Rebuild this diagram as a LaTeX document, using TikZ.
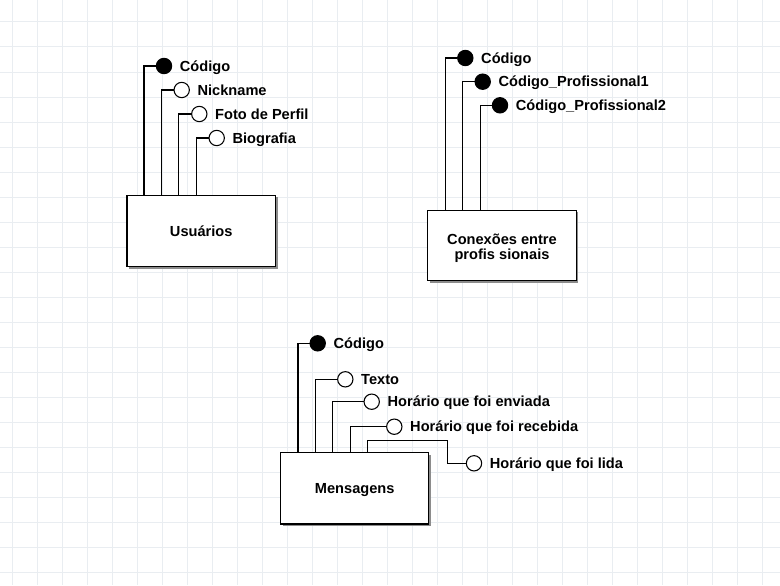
\documentclass[tikz,border=0pt]{standalone}
\usepackage{fontspec}
\setmainfont{Liberation Sans}
\usetikzlibrary{shadows}
\definecolor{gridc}{RGB}{233,237,241}
\definecolor{shadc}{RGB}{140,140,140}
\tikzset{
  px/.style={x=0.75pt,y=-0.75pt},
  gridline/.style={draw=gridc,line width=0.75pt},
  conn/.style={draw=black,line width=0.8pt},
  pk/.style={circle,draw=black,fill=black,line width=0.8pt,minimum size=11.5pt,inner sep=0pt},
  attr/.style={circle,draw=black,fill=white,line width=0.8pt,minimum size=11.5pt,inner sep=0pt},
  lbl/.style={font=\fontsize{10.95pt}{12pt}\selectfont\bfseries,inner sep=0pt,anchor=base west},
  entity/.style={draw=black,fill=white,line width=1pt,minimum width=111.5pt,minimum height=53.5pt,inner sep=0pt,
    drop shadow={shadow xshift=1.6pt,shadow yshift=-1.6pt,fill=shadc,opacity=1}},
  boxtext/.style={font=\fontsize{10.95pt}{11pt}\selectfont\bfseries,align=center,inner sep=0pt}
}
\newcommand{\attrlabel}[2]{\node[lbl] at ([xshift=5.6pt,yshift=-3.9pt]#1.east) {#2};}
\begin{document}
\begin{tikzpicture}[px]
\useasboundingbox (0,0) rectangle (780,585);
\fill[white] (0,0) rectangle (780,585);
\foreach \x in {12,37,...,762} \draw[gridline] (\x,0) -- (\x,585);
\foreach \y in {22,47,...,572} \draw[gridline] (0,\y) -- (780,\y);

% ---------- Usuarios ----------
\node[entity] (ubox) at (201.2,231) {};
\node[boxtext] (ut) at ([yshift=-0.4pt]ubox.center) {Usuários};
\coordinate (ua1) at (144,195.3);
\coordinate (ua2) at (161.3,195.3);
\coordinate (ua3) at (178.7,195.3);
\coordinate (ua4) at (196.3,195.3);
\node[pk]   (uc1) at (164,66) {};
\node[attr] (uc2) at (181.7,90) {};
\node[attr] (uc3) at (199.3,114) {};
\node[attr] (uc4) at (216.7,138) {};
\draw[conn] (uc1.west) -| (ua1);
\draw[conn] (uc2.west) -| (ua2);
\draw[conn] (uc3.west) -| (ua3);
\draw[conn] (uc4.west) -| (ua4);
\attrlabel{uc1}{Código}
\attrlabel{uc2}{Nickname}
\attrlabel{uc3}{Foto de Perfil}
\attrlabel{uc4}{Biografia}

% ---------- Conexoes ----------
\node[entity,minimum height=52.8pt] (cbox) at (502,245.5) {};
\node[boxtext] (ct) at ([yshift=-2.2pt]cbox.center) {Conexões entre\\profis sionais};
\coordinate (ca1) at (445.3,210.3);
\coordinate (ca2) at (462.3,210.3);
\coordinate (ca3) at (480.3,210.3);
\node[pk] (cc1) at (465.3,58) {};
\node[pk] (cc2) at (482.7,81.7) {};
\node[pk] (cc3) at (500,105.3) {};
\draw[conn] (cc1.west) -| (ca1);
\draw[conn] (cc2.west) -| (ca2);
\draw[conn] (cc3.west) -| (ca3);
\attrlabel{cc1}{Código}
\attrlabel{cc2}{Código\_Profissional1}
\attrlabel{cc3}{Código\_Profissional2}

% ---------- Mensagens ----------
\node[entity,minimum width=111pt] (mbox) at (354.7,488.2) {};
\node[boxtext] (mt) at ([yshift=-1.2pt]mbox.center) {Mensagens};
\coordinate (ma1) at (298,452.3);
\coordinate (ma2) at (315.7,452.3);
\coordinate (ma3) at (332.7,452.3);
\coordinate (ma4) at (350.3,452.3);
\coordinate (ma5) at (367.7,452.3);
\coordinate (mb5) at (447.3,440.7);
\node[pk]   (mc1) at (317.7,343.3) {};
\node[attr] (mc2) at (345.3,379.3) {};
\node[attr] (mc3) at (371.7,401.7) {};
\node[attr] (mc4) at (394.3,426.7) {};
\node[attr] (mc5) at (474,463.3) {};
\draw[conn] (mc1.west) -| (ma1);
\draw[conn] (mc2.west) -| (ma2);
\draw[conn] (mc3.west) -| (ma3);
\draw[conn] (mc4.west) -| (ma4);
\draw[conn] (ma5) |- (mb5) |- (mc5.west);
\attrlabel{mc1}{Código}
\attrlabel{mc2}{Texto}
\attrlabel{mc3}{Horário que foi enviada}
\attrlabel{mc4}{Horário que foi recebida}
\attrlabel{mc5}{Horário que foi lida}
\end{tikzpicture}
\end{document}
